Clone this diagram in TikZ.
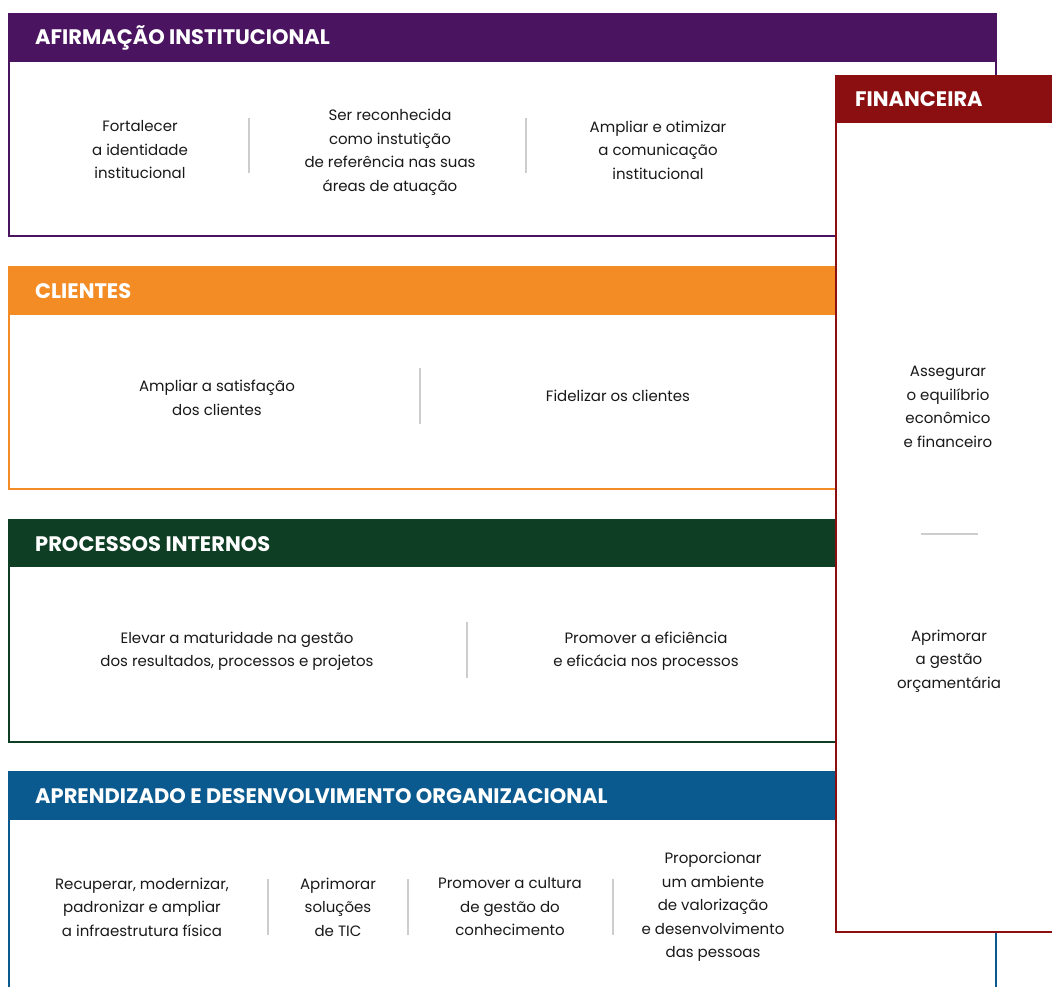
\documentclass[tikz,border=0pt]{standalone}
\usepackage{fontspec}
\setmainfont{Poppins}
\definecolor{afirm}{RGB}{74,20,96}
\definecolor{clien}{RGB}{243,140,36}
\definecolor{proc}{RGB}{14,62,36}
\definecolor{apren}{RGB}{11,90,143}
\definecolor{finan}{RGB}{139,14,16}
\definecolor{sepgray}{RGB}{205,205,205}
\tikzset{
  head/.style={font=\bfseries\fontsize{21}{24}\selectfont,text=white,anchor=west,inner sep=0pt},
  obj/.style={align=center,font=\fontsize{15}{23.5}\selectfont,text=black!90,inner sep=0pt},
  sep/.style={draw=sepgray,line width=2}
}
\begin{document}
\begin{tikzpicture}[x=1pt,y=-1pt]
  \useasboundingbox (0,0) rectangle (1052,987);
  \clip (0,0) rectangle (1052,987);
  % afirmacao institucional
  \draw[afirm,line width=2,fill=white] (9,14) rectangle (996,236);
  \fill[afirm] (9,14) rectangle (996,62);
  \node[head] (hafirm) at (35,38) {AFIRMAÇÃO INSTITUCIONAL};
  \node[obj] (fort) at (140,150) {Fortalecer\\a identidade\\institucional};
  \node[obj] (recon) at (390,152) {Ser reconhecida\\como instutição\\de referência nas suas\\áreas de atuação};
  \node[obj] (comun) at (658,150) {Ampliar e otimizar\\a comunicação\\institucional};
  \draw[sep] (249,118) -- (249,173);
  \draw[sep] (526,118) -- (526,173);
  % clientes
  \draw[clien,line width=2,fill=white] (9,267) rectangle (996,489);
  \fill[clien] (9,267) rectangle (996,315);
  \node[head] (hclien) at (35,291) {CLIENTES};
  \node[obj] (satis) at (217,398) {Ampliar a satisfação\\dos clientes};
  \node[obj] (fidel) at (618,396) {Fidelizar os clientes};
  \draw[sep] (420,368) -- (420,424);
  % processos internos
  \draw[proc,line width=2,fill=white] (9,520) rectangle (996,742);
  \fill[proc] (9,520) rectangle (996,567);
  \node[head] (hproc) at (35,544) {PROCESSOS INTERNOS};
  \node[obj] (matur) at (237,651) {Elevar a maturidade na gestão\\dos resultados, processos e projetos};
  \node[obj] (efic) at (646,651) {Promover a eficiência\\e eficácia nos processos};
  \draw[sep] (467,622) -- (467,678);
  % aprendizado e desenvolvimento
  \draw[apren,line width=2,fill=white] (9,772) rectangle (996,1010);
  \fill[apren] (9,772) rectangle (996,820);
  \node[head] (hapren) at (35,796) {APRENDIZADO E DESENVOLVIMENTO ORGANIZACIONAL};
  \node[obj] (infra) at (142,907) {Recuperar, modernizar,\\padronizar e ampliar\\a infraestrutura física};
  \node[obj] (tic) at (338,907) {Aprimorar\\soluções\\de TIC};
  \node[obj] (cultu) at (510,907) {Promover a cultura\\de gestão do\\conhecimento};
  \node[obj] (pesso) at (713,907) {Proporcionar\\um ambiente\\de valorização\\e desenvolvimento\\das pessoas};
  \draw[sep] (268,879) -- (268,935);
  \draw[sep] (408,879) -- (408,935);
  \draw[sep] (613,879) -- (613,935);
  % financeira
  \draw[finan,line width=2,fill=white] (836,76) rectangle (1070,932);
  \fill[finan] (836,76) rectangle (1070,123);
  \node[head] (hfinan) at (855,99) {FINANCEIRA};
  \node[obj] (equil) at (948,407) {Assegurar\\o equilíbrio\\econômico\\e financeiro};
  \node[obj] (orcam) at (949,661) {Aprimorar\\a gestão\\orçamentária};
  \draw[sep] (921,534) -- (978,534);
\end{tikzpicture}
\end{document}
